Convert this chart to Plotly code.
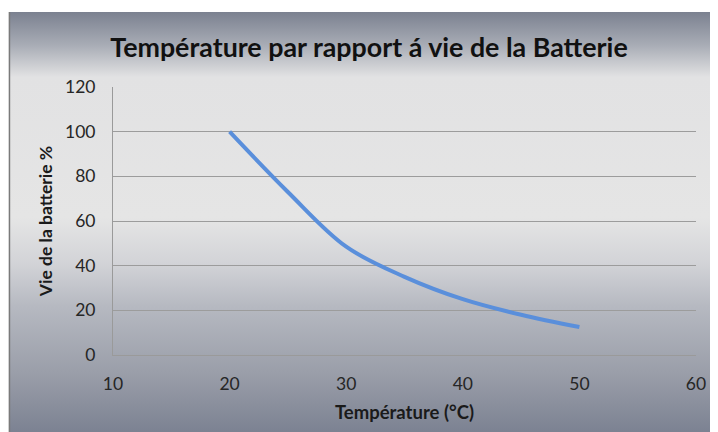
import base64
import plotly.graph_objects as go

# Data
temperature_c = [20, 25, 30, 35, 40, 45, 50]
battery_life_pct = [100, 73, 48.5, 35, 25, 18, 12.5]

x_ticks = [10, 20, 30, 40, 50, 60]
y_ticks = [0, 20, 40, 60, 80, 100, 120]

title_text = "Température par rapport á vie de la Batterie"
x_title = "Température (°C)"
y_title = "Vie de la batterie %"

# the page body adds an 8px offset, so the figure is 710x424
W, H = 710, 424
L, R, T, B = 105, 18, 79, 77
pw, ph = W - L - R, H - T - B

def px_to_paper_x(px):
    return (px - L) / pw

def px_to_paper_y(py):
    return (H - B - py) / ph

# gradient background (Excel style)
svg = '''<svg xmlns="http://www.w3.org/2000/svg" width="710" height="420" preserveAspectRatio="none" viewBox="0 0 710 420">
<defs><linearGradient id="g" x1="0" y1="0" x2="0" y2="1">
<stop offset="0" stop-color="#7b8190"/>
<stop offset="0.08" stop-color="#a9adb6"/>
<stop offset="0.155" stop-color="#e2e2e3"/>
<stop offset="0.49" stop-color="#e5e5e5"/>
<stop offset="0.60" stop-color="#d2d3d7"/>
<stop offset="0.70" stop-color="#b6b9c1"/>
<stop offset="0.86" stop-color="#9a9ea9"/>
<stop offset="1" stop-color="#7c8292"/>
</linearGradient></defs>
<rect x="0" y="0" width="710" height="420" fill="url(#g)"/>
</svg>'''
uri = "data:image/svg+xml;base64," + base64.b64encode(svg.encode()).decode()

fig = go.Figure()
fig.add_trace(go.Scatter(
    x=temperature_c, y=battery_life_pct, mode="lines",
    line=dict(color="#5a8fdb", width=4, shape="spline", smoothing=1.0),
    showlegend=False, hoverinfo="x+y",
))

font_family = "Lato, 'Open Sans', sans-serif"

fig.update_layout(
    width=W, height=H,
    margin=dict(l=L, r=R, t=T, b=B),
    paper_bgcolor="white",
    plot_bgcolor="rgba(0,0,0,0)",
    font=dict(family=font_family, size=16, color="#262626"),
    title=dict(text=f"<b>{title_text}</b>", x=(369 - 8) / W, xref="container",
               xanchor="center", y=1 - 40 / H, yanchor="middle",
               font=dict(family=font_family, size=26.8, color="#111111")),
    images=[dict(source=uri, xref="paper", yref="paper",
                 x=px_to_paper_x(0), y=px_to_paper_y(4),
                 sizex=px_to_paper_x(W) - px_to_paper_x(0),
                 sizey=px_to_paper_y(4) - px_to_paper_y(H),
                 xanchor="left", yanchor="top", sizing="stretch", layer="below")],
    shapes=[dict(type="line", xref="paper", yref="paper",
                 x0=px_to_paper_x(0.75), x1=px_to_paper_x(0.75),
                 y0=px_to_paper_y(4), y1=px_to_paper_y(H),
                 line=dict(color="#7a7a7a", width=1.5), layer="above")],
    xaxis=dict(range=[10, 60], tickvals=x_ticks, showgrid=False, zeroline=False,
               showline=True, linecolor="#9a9a9a", linewidth=1,
               ticks="", ticklabelstandoff=13,
               tickfont=dict(size=17.5, color="#262626"),
               title=dict(text=f"<b>{x_title}</b>", standoff=13,
                          font=dict(size=18.5, color="#1a1a1a"))),
    yaxis=dict(range=[0, 120], tickvals=y_ticks, showgrid=True, gridcolor="#9c9c9c",
               gridwidth=1, zeroline=False, showline=True, linecolor="#9a9a9a",
               linewidth=1, ticks="", ticklabelstandoff=13,
               tickfont=dict(size=17.5, color="#262626"),
               title=dict(text=f"<b>{y_title}</b>", standoff=7,
                          font=dict(size=17.5, color="#1a1a1a"))),
)

fig.write_html("out.html")
